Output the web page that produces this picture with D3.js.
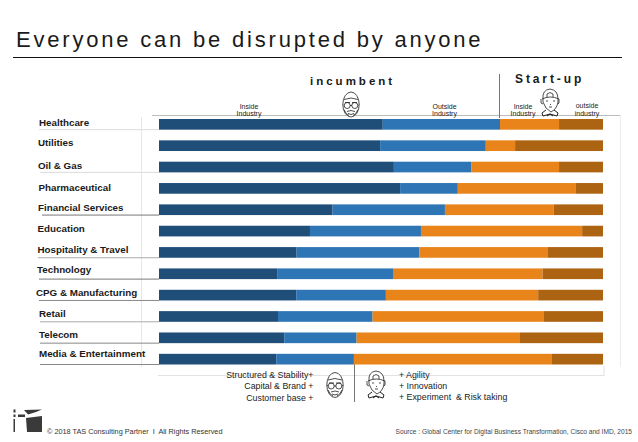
<!DOCTYPE html>
<html lang="en">
<head>
  <meta charset="UTF-8">
  <title>Everyone can be disrupted by anyone</title>
  <script src="https://d3js.org/d3.v7.min.js"></script>
  <style>
    html, body { margin: 0; padding: 0; background: #fff; }
    svg { display: block; }
    text { font-family: "Liberation Sans", Arial, sans-serif; fill: #1a1a1a; white-space: pre; }
  </style>
</head>
<body>
<svg id="chart" width="638" height="442"></svg>
<script>
  const industries = ["Healthcare", "Utilities", "Oil & Gas", "Pharmaceutical", "Financial Services", "Education",
    "Hospitality & Travel", "Technology", "CPG & Manufacturing", "Retail", "Telecom", "Media & Entertainment"];
  const incumbentInside = [50.4, 49.8, 52.9, 54.3, 39.1, 34.0, 31.0, 26.6, 30.9, 26.8, 28.2, 26.4];
  const incumbentOutside = [26.4, 23.8, 17.4, 13.0, 25.3, 25.0, 27.6, 26.1, 20.2, 21.3, 16.3, 17.5];
  const startupInside = [13.3, 6.6, 19.8, 26.6, 24.5, 36.3, 29.0, 33.7, 34.3, 38.6, 36.8, 44.6];
  const startupOutside = [9.9, 19.8, 9.9, 6.1, 11.1, 4.7, 12.4, 13.6, 14.6, 13.3, 18.7, 11.5];
  const incumbentTraits = ["Structured & Stability+", "Capital & Brand +", "Customer base +"];
  const startupTraits = ["+ Agility", "+ Innovation", "+ Experiment  & Risk taking"];

  const seriesKeys = ["incumbentInside", "incumbentOutside", "startupInside", "startupOutside"];
  const colors = ["#1f4e79", "#2e75b6", "#e8841a", "#ad6412"];

  const rows = industries.map((name, i) => ({
    name,
    incumbentInside: incumbentInside[i],
    incumbentOutside: incumbentOutside[i],
    startupInside: startupInside[i],
    startupOutside: startupOutside[i]
  }));

  const svg = d3.select("#chart");

  const x = d3.scaleLinear().domain([0, 100]).range([159, 603]);
  const y = d3.scaleBand().domain(industries).range([119, 364.5]).paddingInner(0.5);

  // frame lines behind the bars
  function rule(x1, y1, x2, y2, color, w) {
    svg.append("line").attr("x1", x1).attr("y1", y1).attr("x2", x2).attr("y2", y2)
      .attr("stroke", color).attr("stroke-width", w || 1);
  }
  rule(13, 57.5, 622, 57.5, "#111");
  rule(152, 115.5, 620, 115.5, "#bdbdbd");
  rule(620.5, 115, 620.5, 367, "#ececec");
  rule(141.5, 117, 141.5, 367, "#e6e6e6");
  rule(158, 375.5, 604, 375.5, "#e2e2e2");
  rule(604, 366, 604, 376, "#e2e2e2");
  rule(499.5, 74, 499.5, 118, "#777");
  rule(354.5, 364, 354.5, 402, "#777");

  // separators under some of the labels
  const sepColors = ["#dcdcdc", null, "#dcdcdc", null, "#777", null, "#aaa", "#777", "#888", "#aaa", "#888", "#888"];
  const sepStart = [39, 0, 40, 0, 42, 0, 38, 39, 39, 40, 40, 40];
  industries.forEach((name, i) => {
    if (sepColors[i]) rule(sepStart[i], y(name) + y.bandwidth(), 159, y(name) + y.bandwidth(), sepColors[i]);
  });

  // stacked bars
  const stacked = d3.stack().keys(seriesKeys)(rows);
  svg.append("g").selectAll("g").data(stacked).join("g")
    .attr("fill", (d, i) => colors[i])
    .selectAll("rect").data(d => d).join("rect")
    .attr("x", d => x(d[0]))
    .attr("width", d => x(d[1]) - x(d[0]))
    .attr("y", d => y(d.data.name))
    .attr("height", y.bandwidth());

  // industry labels, hand placed on the slide so they wander a bit
  const labelNudgeX = [39, 38, 38, 38.5, 38, 37.5, 37.5, 37, 36, 39, 39, 39];
  const labelNudgeY = [1, 0, 1, 2, 1, 0, 0, -1, 0, 0, 0, -3];
  svg.append("g").selectAll("text").data(industries).join("text")
    .attr("x", (d, i) => labelNudgeX[i])
    .attr("y", (d, i) => y(d) + 6 + labelNudgeY[i])
    .attr("font-size", 9.8)
    .attr("font-weight", "bold")
    .text(d => d);

  function label(txt, px, py, size, opts) {
    opts = opts || {};
    return svg.append("text").attr("x", px).attr("y", py).attr("font-size", size)
      .attr("text-anchor", opts.anchor || "start")
      .attr("font-weight", opts.bold ? "bold" : "normal")
      .style("letter-spacing", opts.ls ? opts.ls + "px" : null)
      .text(txt);
  }

  label("Everyone can be disrupted by anyone", 16, 47, 22, { ls: 2.8 });
  label("incumbent", 310, 84.5, 11.5, { bold: true, ls: 3 });
  label("Start-up", 515, 82.5, 12, { bold: true, ls: 2.9 });

  label("Inside", 249, 108.5, 7, { anchor: "middle" });
  label("Industry", 249, 116, 7, { anchor: "middle" });
  label("Outside", 444.5, 108.5, 7, { anchor: "middle" });
  label("Industry", 444.5, 116, 7, { anchor: "middle" });
  label("Inside", 523, 108.5, 7, { anchor: "middle" });
  label("Industry", 523, 116, 7, { anchor: "middle" });
  label("outside", 587, 108, 7, { anchor: "middle" });
  label("industry", 587, 115.5, 7, { anchor: "middle" });

  incumbentTraits.forEach((t, i) => label(t, 313.5, 378 + i * 11.3, 8.8, { anchor: "end" }));
  startupTraits.forEach((t, i) => label(t, 399, 377.5 + i * 11.3, 8.8));

  label("© 2018 TAS Consulting Partner  I  All Rights Reserved", 47, 434, 7.3).style("fill", "#333");
  label("Source : Global Center for Digital Business Transformation, Cisco and IMD, 2015", 632, 434, 6.6, { anchor: "end" }).style("fill", "#444");

  // small line drawings of the two people
  function oldMan(cx, cy) {
    const g = svg.append("g").attr("transform", `translate(${cx},${cy})`)
      .attr("fill", "none").attr("stroke", "#222").attr("stroke-width", 0.8);
    g.append("ellipse").attr("rx", 8.2).attr("ry", 12.5).attr("fill", "#fff");
    g.append("path").attr("d", "M-7,-5 Q0,-8 7,-5 M-6,-2 L-1,-2 M1,-2 L6,-2");
    g.append("circle").attr("cx", -3.8).attr("cy", 1).attr("r", 3);
    g.append("circle").attr("cx", 3.8).attr("cy", 1).attr("r", 3);
    g.append("path").attr("d", "M-8,0 L-7,1 M8,0 L7,1 M-1,1 L1,1 M-4,7 Q0,5 4,7 M-3,9 Q0,11 3,9 M-7,5 Q-5,10 -2,11 M7,5 Q5,10 2,11");
  }
  function youngMan(cx, cy) {
    const g = svg.append("g").attr("transform", `translate(${cx},${cy})`)
      .attr("fill", "none").attr("stroke", "#222").attr("stroke-width", 0.8);
    g.append("path").attr("d", "M-7,-3 Q-8,-12 0,-13 Q8,-12 8,-3 L8,0 Q7,7 1,10 Q-5,7 -7,0 Z").attr("fill", "#fff");
    g.append("path").attr("d", "M-8,-3 Q0,-7 9,-3 M-3,-8 Q0,-11 3,-8 L3,-5 M-3,-8 L-3,-5");
    g.append("path").attr("d", "M-9,-3 L-9,1 L-7,2 M9,-3 L9,1 L8,2");
    g.append("path").attr("d", "M-4,-1 L-2,-1 M3,-1 L5,-1 M0,2 L1,3 M-1,5 L2,5");
    g.append("path").attr("d", "M-4,8 L-8,11 L-7,14 L0,12 L7,14 L8,11 L4,8 M0,12 L-3,14 M0,12 L3,14").attr("stroke-width", 1);
  }
  oldMan(351, 104.5);
  youngMan(550, 102);
  oldMan(335, 385);
  youngMan(376, 384);

  // logo bottom left
  const logo = svg.append("g").attr("fill", "#3a3a3a");
  logo.append("path").attr("d", "M26,418 L42,416 L42,432 L27,432 Z");
  logo.append("path").attr("d", "M24,410 L42,409.5 L36,412 L28,414.5 Z");
  logo.append("rect").attr("x", 13.5).attr("y", 409.5).attr("width", 2).attr("height", 3);
  logo.append("rect").attr("x", 13.5).attr("y", 414.5).attr("width", 2).attr("height", 2.5);
  logo.append("rect").attr("x", 13.5).attr("y", 419).attr("width", 1.5).attr("height", 13);
  logo.append("rect").attr("x", 18).attr("y", 414.5).attr("width", 7).attr("height", 2.5);
</script>
</body>
</html>
